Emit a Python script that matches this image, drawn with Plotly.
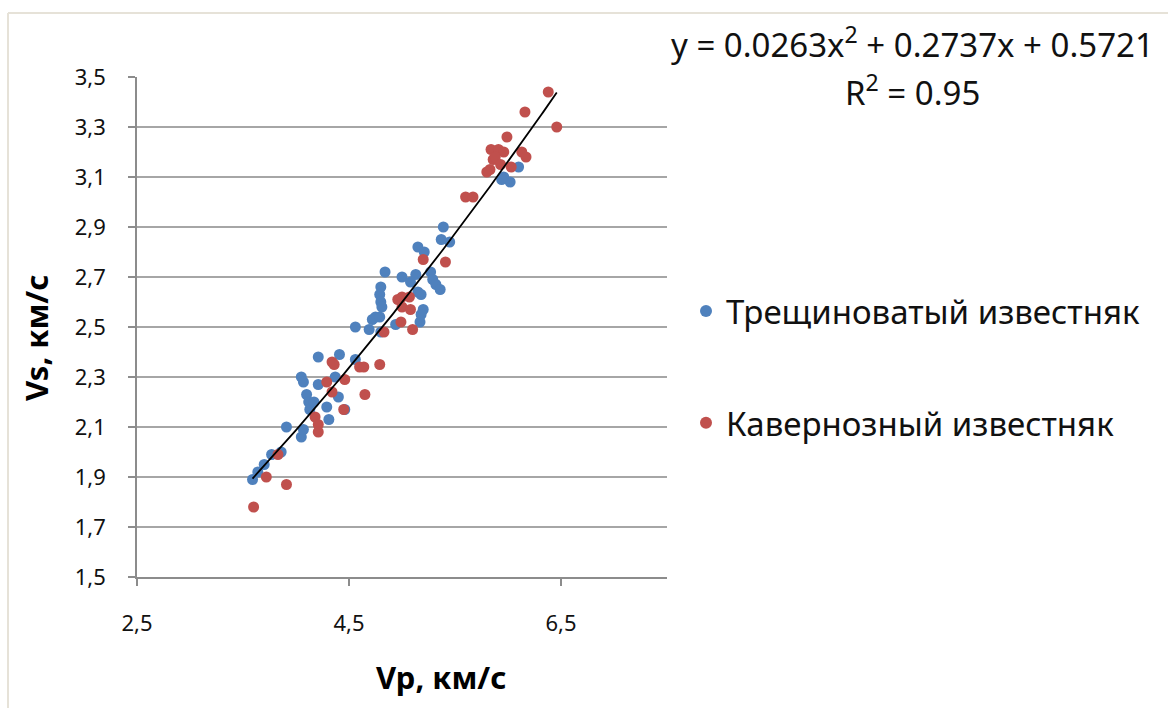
import numpy as np
import plotly.graph_objects as go

# Трещиноватый известняк (fractured limestone): Vp, Vs in km/s
frac_vp = [3.59, 3.64, 3.70, 3.77, 3.86, 3.91, 4.05, 4.07, 4.05, 4.07, 4.10, 4.12, 4.13,
           4.17, 4.21, 4.21, 4.29, 4.31, 4.37, 4.40, 4.41, 4.46, 4.56,
           5.15, 5.21, 5.37, 5.45, 4.84, 5.00, 5.13, 5.27, 5.29, 5.32, 5.36,
           4.80, 4.79, 4.80, 4.81, 5.08, 5.15, 5.18, 4.75, 4.72, 4.79,
           4.56, 4.69, 4.80, 4.94, 5.17, 5.20, 5.18,
           5.39, 6.10, 5.96, 6.02, 5.94]
frac_vs = [1.89, 1.92, 1.95, 1.99, 2.00, 2.10, 2.06, 2.09, 2.30, 2.28, 2.23, 2.20, 2.17,
           2.20, 2.38, 2.27, 2.18, 2.13, 2.30, 2.22, 2.39, 2.17, 2.37,
           2.82, 2.80, 2.85, 2.84, 2.72, 2.70, 2.71, 2.72, 2.69, 2.67, 2.65,
           2.66, 2.63, 2.60, 2.58, 2.68, 2.64, 2.63, 2.54, 2.53, 2.54,
           2.50, 2.49, 2.48, 2.51, 2.52, 2.57, 2.55,
           2.90, 3.14, 3.10, 3.08, 3.09]

# Кавернозный известняк (cavernous limestone)
cav_vp = [3.60, 3.72, 3.91, 3.83, 4.18, 4.21, 4.21, 4.29, 4.34, 4.36, 4.34, 4.46, 4.45,
          4.60, 4.64, 4.79, 4.65, 4.83,
          5.20, 5.41, 4.96, 5.00, 5.07, 5.00, 5.08, 4.99, 5.10,
          6.38, 6.16, 6.46, 5.99, 5.84, 5.91, 5.96, 6.13, 6.17, 5.86, 5.83, 5.80, 6.03,
          5.60, 5.67, 5.88, 5.93]
cav_vs = [1.78, 1.90, 1.87, 1.99, 2.14, 2.11, 2.08, 2.28, 2.36, 2.35, 2.24, 2.29, 2.17,
          2.34, 2.34, 2.35, 2.23, 2.48,
          2.77, 2.76, 2.61, 2.62, 2.62, 2.58, 2.57, 2.52, 2.49,
          3.44, 3.36, 3.30, 3.26, 3.21, 3.21, 3.20, 3.20, 3.18, 3.17, 3.13, 3.12, 3.14,
          3.02, 3.02, 3.18, 3.15]

# Polynomial trendline (2nd order) as stated in the equation label
coef_a, coef_b, coef_c = 0.0263, 0.2737, 0.5721
r_squared = 0.95
all_vp = frac_vp + cav_vp
trend_x = np.linspace(min(all_vp), max(all_vp), 200)
trend_y = coef_a * trend_x ** 2 + coef_b * trend_x + coef_c

y_ticks = [1.5, 1.7, 1.9, 2.1, 2.3, 2.5, 2.7, 2.9, 3.1, 3.3, 3.5]
x_ticks = [2.5, 4.5, 6.5]

FONT = "Noto Sans"
TXT = "#111111"
BLUE = "#4F81BD"
RED = "#C0504D"

fig = go.Figure()
fig.add_trace(go.Scatter(
    x=frac_vp, y=frac_vs, mode="markers", name="Трещиноватый известняк",
    legendgroup="g1",
    marker=dict(color=BLUE, size=11, line=dict(width=0)),
))
fig.add_trace(go.Scatter(
    x=cav_vp, y=cav_vs, mode="markers", name="Кавернозный известняк",
    legendgroup="g2",
    marker=dict(color=RED, size=11, line=dict(width=0)),
))
fig.add_trace(go.Scatter(
    x=trend_x, y=trend_y, mode="lines", showlegend=False,
    line=dict(color="black", width=1.8),
))

# plot area geometry (pixels)
L, R, T, B = 137, 667, 77, 577
W, H = 1168, 708


def px_x(px):
    return (px - L) / (R - L)


def px_y(py):
    return (B - py) / (B - T)


fig.update_layout(
    width=W, height=H,
    margin=dict(l=L, r=W - R, t=T, b=H - B),
    paper_bgcolor="white", plot_bgcolor="white",
    separators=", ",
    font=dict(family=FONT, color=TXT),
    showlegend=True,
    legend=dict(
        x=px_x(686), y=px_y(283), xanchor="left", yanchor="top",
        font=dict(family=FONT, size=33, color=TXT),
        tracegroupgap=66, itemsizing="constant",
        bgcolor="rgba(0,0,0,0)",
    ),
    xaxis=dict(
        range=[2.5, 7.5], tickvals=x_ticks, tickformat=".1f",
        showgrid=False, zeroline=False,
        showline=True, linecolor="#8c8c8c", linewidth=1.5,
        ticks="outside", ticklen=7, tickcolor="#8c8c8c", tickwidth=1.5,
        ticklabelstandoff=19,
        tickfont=dict(family=FONT, size=22, color=TXT),
    ),
    yaxis=dict(
        range=[1.5, 3.5], tickvals=y_ticks, tickformat=".1f",
        showgrid=True, gridcolor="#a6a6a6", gridwidth=1.5,
        zeroline=False,
        showline=True, linecolor="#8c8c8c", linewidth=1.5,
        ticks="outside", ticklen=7, tickcolor="#8c8c8c", tickwidth=1.5,
        ticklabelstandoff=18,
        tickfont=dict(family=FONT, size=22, color=TXT),
    ),
    annotations=[
        dict(xref="paper", yref="paper", x=px_x(441), y=px_y(677),
             text="<b>Vp, км/с</b>", showarrow=False,
             xanchor="center", yanchor="middle",
             font=dict(family=FONT, size=31, color="#000")),
        dict(xref="paper", yref="paper", x=px_x(36), y=px_y(338),
             text="<b>Vs, км/с</b>", showarrow=False, textangle=-90,
             xanchor="center", yanchor="middle",
             font=dict(family=FONT, size=31, color="#000")),
        dict(xref="paper", yref="paper", x=px_x(912), y=px_y(43),
             text=f"y = {coef_a}x<sup>2</sup> + {coef_b}x + {coef_c}",
             showarrow=False, xanchor="center", yanchor="middle",
             font=dict(family=FONT, size=33, color=TXT)),
        dict(xref="paper", yref="paper", x=px_x(912), y=px_y(90),
             text=f"R<sup>2</sup> = {r_squared}",
             showarrow=False, xanchor="center", yanchor="middle",
             font=dict(family=FONT, size=33, color=TXT)),
    ],
    shapes=[
        dict(type="line", xref="paper", yref="paper",
             x0=px_x(8), x1=px_x(1168), y0=px_y(13), y1=px_y(13),
             line=dict(color="#e6e2d8", width=2)),
        dict(type="line", xref="paper", yref="paper",
             x0=px_x(8), x1=px_x(8), y0=px_y(13), y1=px_y(708),
             line=dict(color="#e6e2d8", width=2)),
    ],
)

fig.write_html("out.html")
